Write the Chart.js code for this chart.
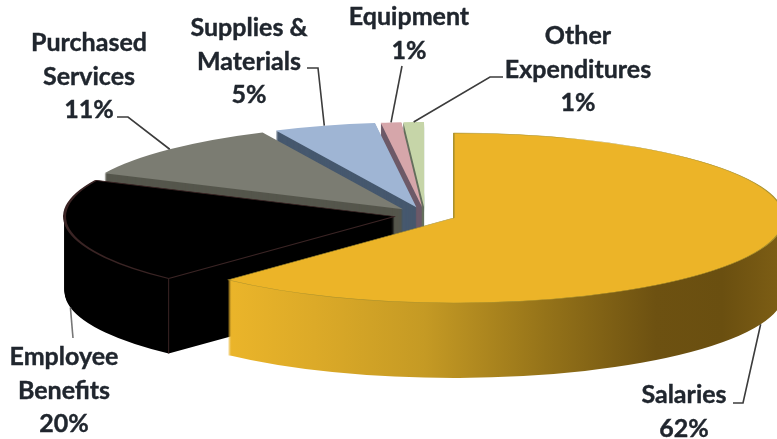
<!DOCTYPE html>
<html>
<head>
<meta charset="utf-8">
<title>Expenditures by category</title>
<style>
  html, body { margin: 0; padding: 0; background: #fff; }
  #wrap { width: 777px; height: 439px; overflow: hidden; }
</style>
<script src="https://cdn.jsdelivr.net/npm/chart.js@4/dist/chart.umd.min.js"></script>
</head>
<body>
<div id="wrap"><canvas id="myChart" width="777" height="439"></canvas></div>
<script>
const categories = ['Salaries', 'Employee Benefits', 'Purchased Services', 'Supplies & Materials', 'Equipment', 'Other Expenditures'];
const percents = [62, 20, 11, 5, 1, 1];

// lines of each label, wrapped by hand
const labelLines = [
    ['Salaries'],
    ['Employee', 'Benefits'],
    ['Purchased', 'Services'],
    ['Supplies &', 'Materials'],
    ['Equipment'],
    ['Other', 'Expenditures']
];

const topColors = ['#ecb428', '#000000', '#7b7c72', '#9fb5d4', '#d6a6aa', '#c6d5a8'];
const wallColors = [null, '#000000', '#55564c', '#46586e', '#6d5a68', '#66705e'];
const edgeColors = ['#a8902e', '#3a2424', '#7b7c72', '#9fb5d4', '#d6a6aa', '#c6d5a8'];
const edgeWidths = [1, 2, 0, 0, 0, 0];

// pie projection on the page
const pieX = 425, pieY = 215;
const radiusX = 330, radiusY = 85;
const depth = 75;
const explode = 31;

// label centres and leader elbows
const labelX = [684, 64, 89, 249, 409, 578];
const labelY = [395, 357, 43, 28, 17, 36];
const lineGap = 33.5;
const elbows = [
    [[733, 403], [743, 403]],
    [[73, 338]],
    [[117, 117], [128, 117]],
    [[307, 68], [318, 68]],
    [[402, 66]],
    [[503, 77], [490, 77]]
];

// page position of a slice's apex after it is pulled out along its middle angle
function apexOf(arc) {
    const mid = (arc.startAngle + arc.endAngle) / 2;
    return {
        x: pieX + Math.cos(mid) * explode,
        y: pieY + Math.sin(mid) * explode * radiusY / radiusX
    };
}

function drawArc(ctx, arc, shiftY, override) {
    const apex = apexOf(arc);
    const saved = arc.options;
    arc.options = Object.assign({}, saved, override);
    ctx.save();
    ctx.translate(apex.x, apex.y + shiftY);
    ctx.scale(radiusX / arc.outerRadius, radiusY / arc.outerRadius);
    ctx.translate(-arc.x, -arc.y);
    arc.draw(ctx);
    ctx.restore();
    arc.options = saved;
}

function salaryWall(ctx, arc) {
    const apex = apexOf(arc);
    const sx = radiusX / arc.outerRadius;
    const x0 = (226 - apex.x) / sx + arc.x, x1 = (777 - apex.x) / sx + arc.x;
    const grad = ctx.createLinearGradient(x0, 0, x1, 0);
    grad.addColorStop(0, '#ebb52a');
    grad.addColorStop(0.16, '#dcaa28');
    grad.addColorStop(0.36, '#c59a24');
    grad.addColorStop(0.58, '#957319');
    grad.addColorStop(0.78, '#6d5111');
    grad.addColorStop(0.9, '#6a4f10');
    grad.addColorStop(1, '#7c5d14');
    return grad;
}

// page position of a point on the outer edge of a slice
function sliceEdge(arc, angle) {
    const apex = apexOf(arc);
    return {
        x: apex.x + Math.cos(angle) * radiusX,
        y: apex.y + Math.sin(angle) * radiusY
    };
}

// extrudes each slice downwards, back slices first
const pie3d = {
    id: 'pie3d',
    beforeDatasetDraw(chart, args) {
        const ctx = chart.ctx;
        const arcs = chart.getDatasetMeta(args.index).data;
        const order = [5, 4, 3, 2, 1, 0];
        order.forEach(i => {
            const arc = arcs[i];
            const fill = i === 0 ? salaryWall(ctx, arc) : wallColors[i];
            for (let d = depth; d > 0; d--) {
                drawArc(ctx, arc, d, { backgroundColor: fill, borderWidth: 0 });
            }
            drawArc(ctx, arc, 0, {});
            if (i === 1) {
                // corner line on the black slice
                const p = sliceEdge(arc, arc.startAngle);
                ctx.strokeStyle = '#3a2424';
                ctx.lineWidth = 1;
                ctx.beginPath();
                ctx.moveTo(p.x, p.y);
                ctx.lineTo(p.x, p.y + depth);
                ctx.stroke();
            }
        });
        return false;
    },
    afterDraw(chart) {
        const ctx = chart.ctx;
        const arcs = chart.getDatasetMeta(0).data;

        // leader lines end on the rim at the middle of each slice
        arcs.forEach((arc, i) => {
            const mid = (arc.startAngle + arc.endAngle) / 2;
            const rim = sliceEdge(arc, mid);
            const front = Math.sin(mid) > 0;
            ctx.strokeStyle = i === 1 ? '#777777' : '#3c3c3c';
            ctx.lineWidth = 1.6;
            ctx.beginPath();
            elbows[i].forEach((p, k) => k === 0 ? ctx.moveTo(p[0], p[1]) : ctx.lineTo(p[0], p[1]));
            ctx.lineTo(rim.x, rim.y + (front ? depth : 0));
            ctx.stroke();
        });

        ctx.fillStyle = '#20262e';
        ctx.strokeStyle = '#20262e';
        ctx.lineWidth = 0.4;
        ctx.font = 'bold 25px Lato';
        ctx.textAlign = 'center';
        ctx.textBaseline = 'middle';
        labelLines.forEach((lines, i) => {
            const rows = lines.concat(percents[i] + '%');
            rows.forEach((row, k) => {
                ctx.fillText(row, labelX[i], labelY[i] + k * lineGap);
                ctx.strokeText(row, labelX[i], labelY[i] + k * lineGap);
            });
        });
    }
};

new Chart(document.getElementById('myChart').getContext('2d'), {
    type: 'pie',
    data: {
        labels: categories,
        datasets: [{
            data: percents,
            backgroundColor: topColors,
            borderColor: edgeColors,
            borderWidth: edgeWidths
        }]
    },
    options: {
        responsive: false,
        animation: false,
        events: [],
        layout: { padding: 0 },
        plugins: { legend: { display: false }, tooltip: { enabled: false } }
    },
    plugins: [pie3d]
});
</script>
</body>
</html>
